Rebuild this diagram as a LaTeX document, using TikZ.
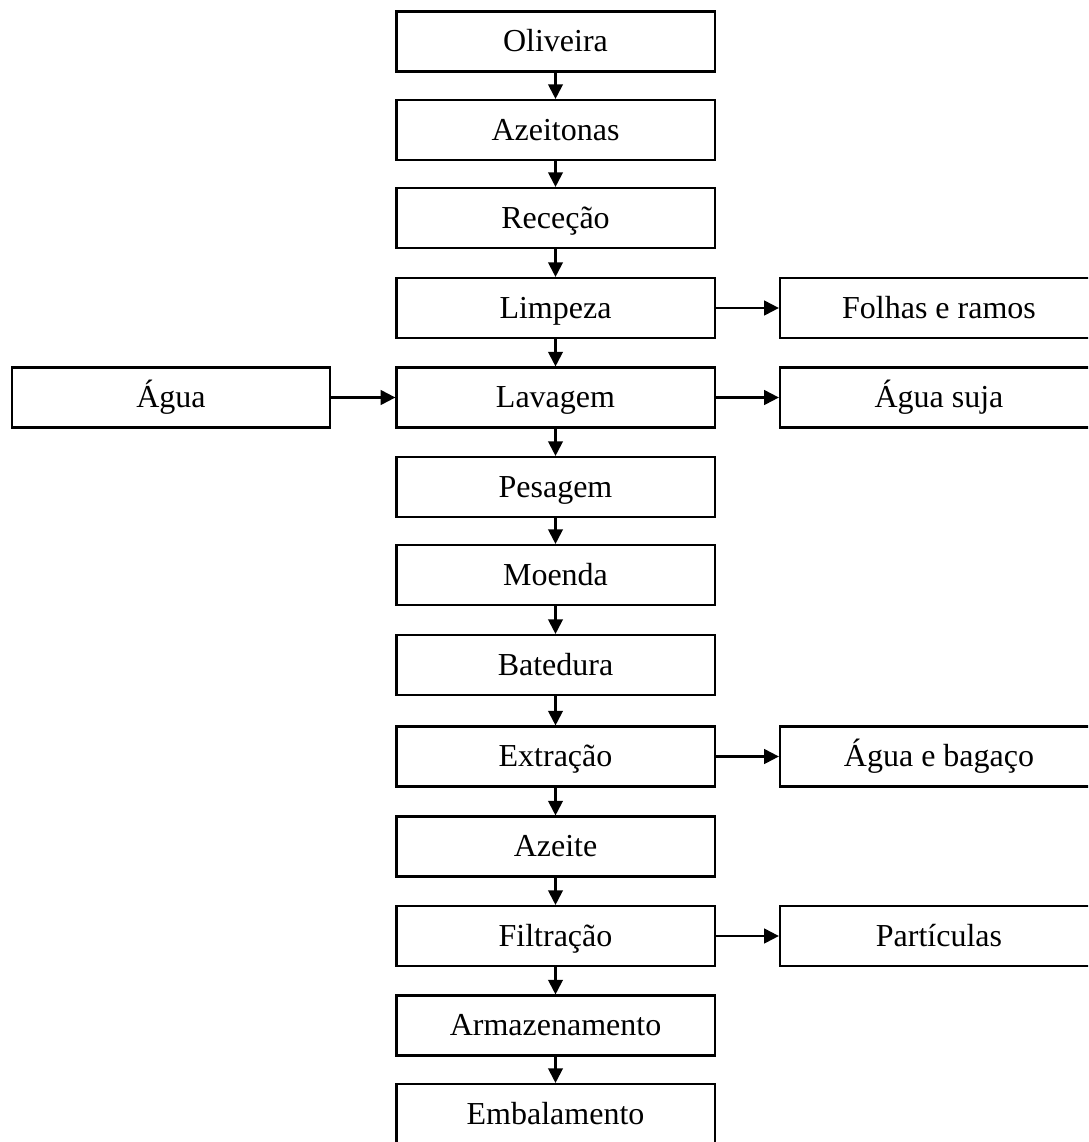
\documentclass[tikz,border=0pt]{standalone}
\usepackage{fontspec}
\setmainfont{Liberation Serif}
\usetikzlibrary{arrows.meta}

\tikzset{
  etapa/.style={draw, line width=0.8pt, minimum width=119.3pt, minimum height=22.5pt, inner sep=0pt, text height=9pt, text depth=1.5pt, font=\fontsize{12}{14}\selectfont},
  fluxo/.style={line width=0.8pt, -{Triangle[length=5.5pt,width=5.5pt]}}
}

\begin{document}
\begin{tikzpicture}[x=0.375pt, y=-0.375pt]
% fixed page size, side boxes run off the edge
\useasboundingbox (0,0) rectangle (1088,1142);
\clip (0,0) rectangle (1088,1142);

% main column
\node[etapa] (oliveira) at (555.5,41.5) {Oliveira};
\node[etapa] (azeitonas) at (555.5,130) {Azeitonas};
\node[etapa] (rececao) at (555.5,218) {Receção};
\node[etapa] (limpeza) at (555.5,308) {Limpeza};
\node[etapa] (lavagem) at (555.5,397.5) {Lavagem};
\node[etapa] (pesagem) at (555.5,487) {Pesagem};
\node[etapa] (moenda) at (555.5,575) {Moenda};
\node[etapa] (batedura) at (555.5,665) {Batedura};
\node[etapa] (extracao) at (555.5,756.5) {Extração};
\node[etapa] (azeite) at (555.5,846.5) {Azeite};
\node[etapa] (filtracao) at (555.5,936) {Filtração};
\node[etapa] (armazenamento) at (555.5,1025.5) {Armazenamento};
\node[etapa] (embalamento) at (555.5,1114) {Embalamento};

% inputs and outputs
\node[etapa] (agua) at (171,397.5) {Água};
\node[etapa] (folhas) at (939,308) {Folhas e ramos};
\node[etapa] (aguasuja) at (939,397.5) {Água suja};
\node[etapa] (bagaco) at (939,756.5) {Água e bagaço};
\node[etapa] (particulas) at (939,936) {Partículas};

% vertical flow
\draw[fluxo] (oliveira) -- (azeitonas);
\draw[fluxo] (azeitonas) -- (rececao);
\draw[fluxo] (rececao) -- (limpeza);
\draw[fluxo] (limpeza) -- (lavagem);
\draw[fluxo] (lavagem) -- (pesagem);
\draw[fluxo] (pesagem) -- (moenda);
\draw[fluxo] (moenda) -- (batedura);
\draw[fluxo] (batedura) -- (extracao);
\draw[fluxo] (extracao) -- (azeite);
\draw[fluxo] (azeite) -- (filtracao);
\draw[fluxo] (filtracao) -- (armazenamento);
\draw[fluxo] (armazenamento) -- (embalamento);

% side arrows
\draw[fluxo] (agua) -- (lavagem);
\draw[fluxo] (limpeza) -- (folhas);
\draw[fluxo] (lavagem) -- (aguasuja);
\draw[fluxo] (extracao) -- (bagaco);
\draw[fluxo] (filtracao) -- (particulas);
\end{tikzpicture}
\end{document}
